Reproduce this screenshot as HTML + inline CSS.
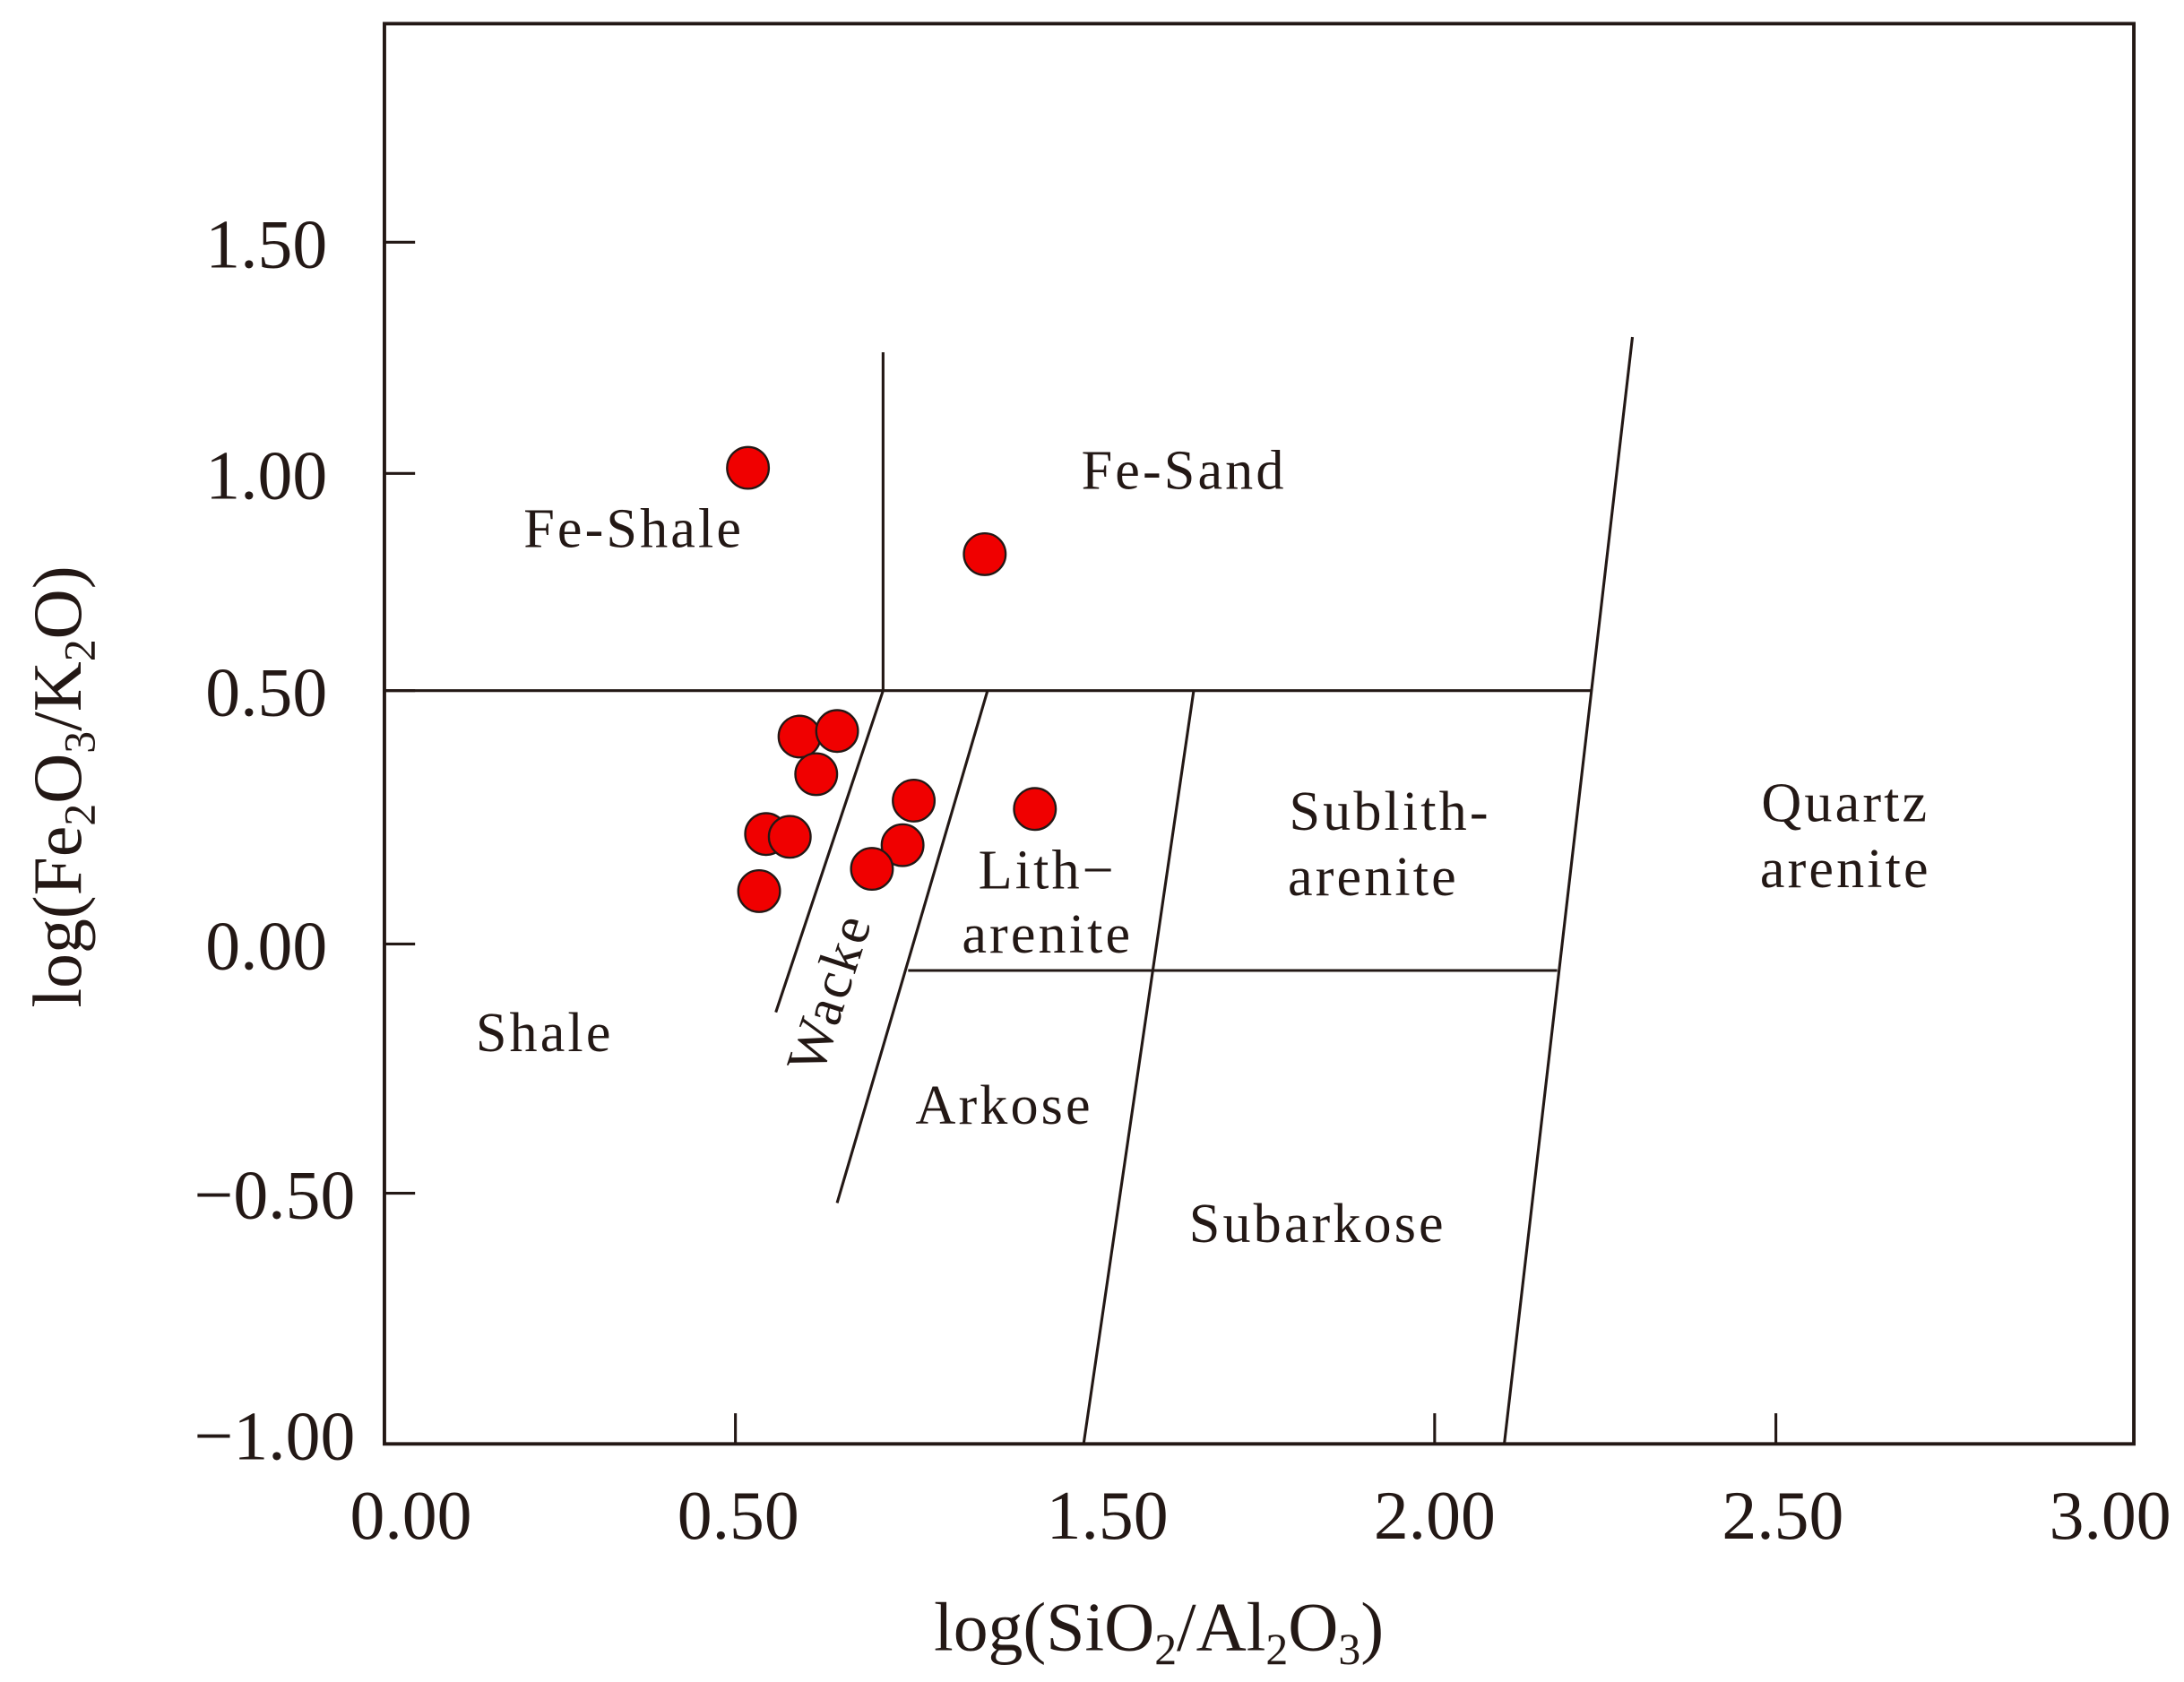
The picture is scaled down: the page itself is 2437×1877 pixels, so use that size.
<!DOCTYPE html>
<html><head><meta charset="utf-8"><style>html,body{margin:0;padding:0;background:#fff}svg{display:block}</style></head>
<body>
<svg width="2437" height="1877" viewBox="0 0 1568 1208" preserveAspectRatio="none" xmlns="http://www.w3.org/2000/svg" font-family="Liberation Serif, serif" fill="#231815">
<rect width="1568" height="1208" fill="#fff"/>
<g stroke="#231815" fill="none">
<rect x="276" y="17" width="1256" height="1020" stroke-width="2.5"/>
<g stroke-width="2">
<line x1="276" y1="174" x2="298" y2="174"/>
<line x1="276" y1="340" x2="298" y2="340"/>
<line x1="276" y1="496" x2="298" y2="496"/>
<line x1="276" y1="678" x2="298" y2="678"/>
<line x1="276" y1="857" x2="298" y2="857"/>
<line x1="528" y1="1037" x2="528" y2="1015"/>
<line x1="1030" y1="1037" x2="1030" y2="1015"/>
<line x1="1275" y1="1037" x2="1275" y2="1015"/>
<line x1="276" y1="496" x2="1142" y2="496"/>
<line x1="634" y1="253" x2="634" y2="496"/>
<line x1="1172" y1="242" x2="1080" y2="1037"/>
<line x1="652" y1="697" x2="1118" y2="697"/>
<line x1="857" y1="496" x2="778" y2="1037"/>
<line x1="709" y1="496" x2="601" y2="864"/>
<line x1="634" y1="496" x2="557" y2="727"/>
</g>
</g>
<g fill="#f00000" stroke="#231815" stroke-width="1.5">
<circle cx="537" cy="336" r="15"/><circle cx="707" cy="398" r="15"/>
<circle cx="574" cy="529" r="15"/><circle cx="601" cy="525" r="15"/>
<circle cx="586" cy="556" r="15"/><circle cx="656" cy="575" r="15"/>
<circle cx="743" cy="581" r="15"/><circle cx="550" cy="599" r="15"/>
<circle cx="567" cy="601" r="15"/><circle cx="648" cy="607" r="15"/>
<circle cx="626" cy="624" r="15"/><circle cx="545" cy="640" r="15"/>
</g>
<g font-size="50" text-anchor="end">
<text x="235" y="192">1.50</text>
<text x="235" y="358">1.00</text>
<text x="235" y="514">0.50</text>
<text x="235" y="696">0.00</text>
<text x="255" y="875">−0.50</text>
<text x="255" y="1048">−1.00</text>
</g>
<g font-size="50" text-anchor="middle">
<text x="295" y="1105">0.00</text>
<text x="530" y="1105">0.50</text>
<text x="795" y="1105">1.50</text>
<text x="1030" y="1105">2.00</text>
<text x="1280" y="1105">2.50</text>
<text x="1515" y="1105">3.00</text>
<text x="832" y="1185">log(SiO<tspan font-size="32" dy="10">2</tspan><tspan dy="-10">/Al</tspan><tspan font-size="32" dy="10">2</tspan><tspan dy="-10">O</tspan><tspan font-size="32" dy="10">3</tspan><tspan dy="-10">)</tspan></text>
<text transform="translate(58,565) rotate(-90)">log(Fe<tspan font-size="32" dy="10">2</tspan><tspan dy="-10">O</tspan><tspan font-size="32" dy="10">3</tspan><tspan dy="-10">/K</tspan><tspan font-size="32" dy="10">2</tspan><tspan dy="-10">O)</tspan></text>
</g>
<g font-size="40" text-anchor="middle" letter-spacing="2">
<text x="455" y="393">Fe-Shale</text>
<text x="850" y="351">Fe-Sand</text>
<text x="998" y="596">Sublith-</text>
<text x="986" y="643">arenite</text>
<text x="1325" y="590">Quartz</text>
<text x="1325" y="637">arenite</text>
<text x="752" y="638">Lith−</text>
<text x="752" y="684">arenite</text>
<text x="391" y="755">Shale</text>
<text x="721" y="807">Arkose</text>
<text x="946" y="892">Subarkose</text>
<text transform="translate(608,717) rotate(-72)">Wacke</text>
</g>
</svg>
</body></html>
